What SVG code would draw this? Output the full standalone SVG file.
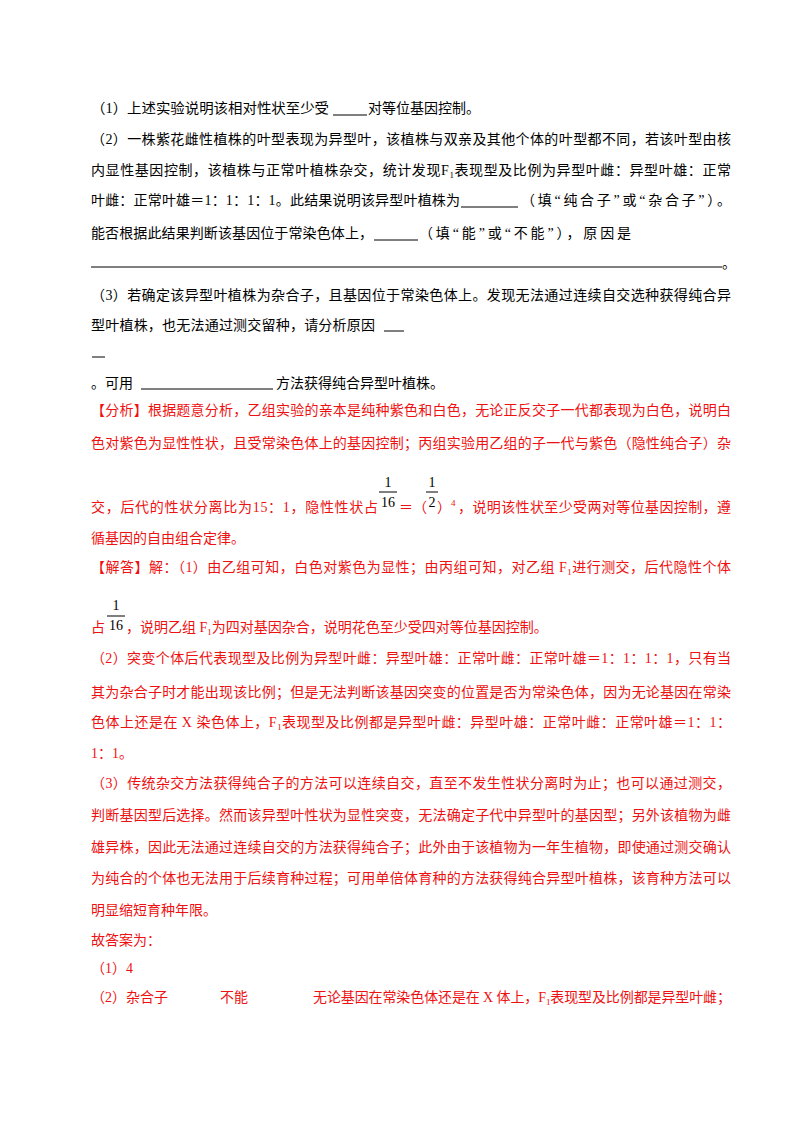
<svg xmlns="http://www.w3.org/2000/svg" width="800" height="1132" viewBox="0 0 800 1132">
<style>
text{font-family:"Liberation Serif","Noto Sans CJK SC",serif;font-size:14px;fill:#000}
.r{fill:#ee1111}
.s{font-size:9px}
.u{stroke:#000;stroke-width:1}
.fb{stroke:#ee1111;stroke-width:1}
</style>
<rect width="800" height="1132" fill="#fff"/>
<g id="question">
<text x="91" y="113" textLength="238" lengthAdjust="spacingAndGlyphs">（1）上述实验说明该相对性状至少受</text>
<line class="u" x1="333" y1="115" x2="367" y2="115"/>
<text x="368" y="113">对等位基因控制。</text>
<text x="91" y="144" textLength="640" lengthAdjust="spacing">（2）一株紫花雌性植株的叶型表现为异型叶，该植株与双亲及其他个体的叶型都不同，若该叶型由核</text>
<text x="91" y="175" textLength="640" lengthAdjust="spacing">内显性基因控制，该植株与正常叶植株杂交，统计发现F<tspan class="s" dy="3">1</tspan><tspan dy="-3">表现型及比例为异型叶雌：异型叶雄：正常</tspan></text>
<text x="91" y="205" textLength="369" lengthAdjust="spacing">叶雌：正常叶雄＝1：1：1：1。此结果说明该异型叶植株为</text>
<line class="u" x1="461" y1="207" x2="518" y2="207"/>
<text x="521" y="205" textLength="210" lengthAdjust="spacing">（填“纯合子”或“杂合子”）。</text>
<text x="91" y="238" textLength="282" lengthAdjust="spacing">能否根据此结果判断该基因位于常染色体上，</text>
<line class="u" x1="374" y1="240" x2="418" y2="240"/>
<text x="419" y="238" textLength="212" lengthAdjust="spacing">（填“能”或“不能”），原因是</text>
<line class="u" x1="91" y1="267" x2="722" y2="267"/>
<text x="722" y="268">。</text>
<text x="91" y="300" textLength="640" lengthAdjust="spacing">（3）若确定该异型叶植株为杂合子，且基因位于常染色体上。发现无法通过连续自交选种获得纯合异</text>
<text x="91" y="330" textLength="284" lengthAdjust="spacing">型叶植株，也无法通过测交留种，请分析原因</text>
<line class="u" x1="384" y1="331" x2="404" y2="331"/>
<line class="u" x1="92" y1="357" x2="105" y2="357"/>
<text x="91" y="388">。可用</text>
<line class="u" x1="141" y1="389" x2="273" y2="389"/>
<text x="276" y="388">方法获得纯合异型叶植株。</text>
</g>
<g id="analysis">
<text class="r" x="91" y="415" textLength="640" lengthAdjust="spacing">【分析】根据题意分析，乙组实验的亲本是纯种紫色和白色，无论正反交子一代都表现为白色，说明白</text>
<text class="r" x="91" y="448" textLength="640" lengthAdjust="spacing">色对紫色为显性性状，且受常染色体上的基因控制；丙组实验用乙组的子一代与紫色（隐性纯合子）杂</text>
<text class="r" x="91" y="512" textLength="287" lengthAdjust="spacing">交，后代的性状分离比为15：1，隐性性状占</text>
<text x="388" y="487" text-anchor="middle">1</text>
<line x1="379" y1="492" x2="397" y2="492" stroke="#000" stroke-width="1"/>
<text x="388" y="507" text-anchor="middle">16</text>
<text class="r" x="399" y="512">＝（</text>
<text x="432" y="487" text-anchor="middle">1</text>
<line x1="426" y1="492" x2="438" y2="492" stroke="#000" stroke-width="1"/>
<text x="432" y="507" text-anchor="middle">2</text>
<text class="r" x="437" y="512">）<tspan class="s" dy="-6">4</tspan></text>
<text class="r" x="458" y="512" textLength="273" lengthAdjust="spacing">，说明该性状至少受两对等位基因控制，遵</text>
<text class="r" x="91" y="543">循基因的自由组合定律。</text>
<text class="r" x="91" y="572" textLength="640" lengthAdjust="spacing">【解答】解：（1）由乙组可知，白色对紫色为显性；由丙组可知，对乙组 F<tspan class="s" dy="3">1</tspan><tspan dy="-3">进行测交，后代隐性个体</tspan></text>
<text class="r" x="91" y="632">占</text>
<text x="116" y="610" text-anchor="middle">1</text>
<line x1="107" y1="616" x2="125" y2="616" stroke="#000" stroke-width="1"/>
<text x="116" y="630" text-anchor="middle">16</text>
<text class="r" x="126" y="632">，说明乙组 F<tspan class="s" dy="3">1</tspan><tspan dy="-3">为四对基因杂合，说明花色至少受四对等位基因控制。</tspan></text>
<text class="r" x="91" y="663" textLength="640" lengthAdjust="spacing">（2）突变个体后代表现型及比例为异型叶雌：异型叶雄：正常叶雌：正常叶雄＝1：1：1：1，只有当</text>
<text class="r" x="91" y="697" textLength="640" lengthAdjust="spacing">其为杂合子时才能出现该比例；但是无法判断该基因突变的位置是否为常染色体，因为无论基因在常染</text>
<text class="r" x="91" y="727" textLength="640" lengthAdjust="spacing">色体上还是在 X 染色体上，F<tspan class="s" dy="3">1</tspan><tspan dy="-3">表现型及比例都是异型叶雌：异型叶雄：正常叶雌：正常叶雄＝1：1：</tspan></text>
<text class="r" x="91" y="758">1：1。</text>
<text class="r" x="91" y="788" textLength="640" lengthAdjust="spacing">（3）传统杂交方法获得纯合子的方法可以连续自交，直至不发生性状分离时为止；也可以通过测交，</text>
<text class="r" x="91" y="820" textLength="640" lengthAdjust="spacing">判断基因型后选择。然而该异型叶性状为显性突变，无法确定子代中异型叶的基因型；另外该植物为雌</text>
<text class="r" x="91" y="852" textLength="640" lengthAdjust="spacing">雄异株，因此无法通过连续自交的方法获得纯合子；此外由于该植物为一年生植物，即使通过测交确认</text>
<text class="r" x="91" y="883" textLength="640" lengthAdjust="spacing">为纯合的个体也无法用于后续育种过程；可用单倍体育种的方法获得纯合异型叶植株，该育种方法可以</text>
<text class="r" x="91" y="915">明显缩短育种年限。</text>
<text class="r" x="91" y="945">故答案为：</text>
<text class="r" x="91" y="973">（1）4</text>
<text class="r" x="91" y="1002">（2）杂合子</text>
<text class="r" x="220" y="1002">不能</text>
<text class="r" x="313" y="1002" textLength="418" lengthAdjust="spacing">无论基因在常染色体还是在 X 体上，F<tspan class="s" dy="3">1</tspan><tspan dy="-3">表现型及比例都是异型叶雌；</tspan></text>
</g>
</svg>
